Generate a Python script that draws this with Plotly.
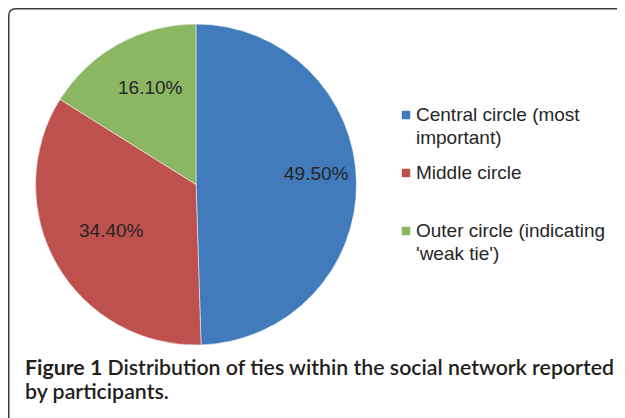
import math
import plotly.graph_objects as go

categories = ["Central circle (most<br>important)", "Middle circle", "Outer circle (indicating<br>'weak tie')"]
values = [49.5, 34.4, 16.1]
value_labels = ["49.50%", "34.40%", "16.10%"]
colors = ["#417BBB", "#BE504E", "#8BB662"]
label_radius = [0.757, 0.599, 0.665]
label_angle_shift = [-4.5, 1.5, 3.8]

W, H = 625, 418
OFF = 8  # page body margin of the screenshot

def px(x):
    return (x - OFF) / W

def py(y):
    return 1 - (y - OFF) / H

cx, cy, r = 196, 184.5, 160.5

fig = go.Figure()
fig.add_trace(go.Pie(
    labels=[c.replace("<br>", " ") for c in categories],
    values=values,
    text=value_labels,
    textinfo="none",
    marker=dict(colors=colors, line=dict(color="white", width=0.5)),
    sort=False,
    direction="clockwise",
    rotation=0,
    showlegend=False,
    domain=dict(x=[px(cx - r), px(cx + r)], y=[py(cy + r), py(cy - r)]),
    hoverinfo="label+text",
))

label_font = dict(family="Liberation Sans, Arial, sans-serif", size=19, color="#262626")

# slice labels placed around the mid-angle of each slice (derived from the values)
total = sum(values)
cum = 0.0
for v, lab, rf, sh in zip(values, value_labels, label_radius, label_angle_shift):
    mid = (cum + v / 2) / total * 2 * math.pi + math.radians(sh)
    cum += v
    lx = cx + rf * r * math.sin(mid)
    ly = cy - rf * r * math.cos(mid)
    fig.add_annotation(
        text=lab, xref="paper", yref="paper", x=px(lx), y=py(ly),
        xanchor="center", yanchor="middle", showarrow=False, font=label_font,
    )

# legend (square key + label per category)
leg_x, leg_y0, leg_step, line_step, sq = 406, 115, 58, 23, 8.5
for i, (cat, col) in enumerate(zip(categories, colors)):
    yc = leg_y0 + i * leg_step
    fig.add_shape(type="rect", xref="paper", yref="paper",
                  x0=px(leg_x - sq / 2), x1=px(leg_x + sq / 2),
                  y0=py(yc + sq / 2), y1=py(yc - sq / 2),
                  fillcolor=col, line=dict(width=0))
    for j, line in enumerate(cat.split("<br>")):
        fig.add_annotation(
            text=line, xref="paper", yref="paper", x=px(414), y=py(yc - 0.5 + j * line_step),
            xanchor="left", yanchor="middle", showarrow=False, font=label_font,
        )

# rounded frame
x0, y0, x1, y1, rr = 8.75, 8.75, 640, 430, 7
path = (f"M {px(x0+rr)},{py(y0)} L {px(x1)},{py(y0)} L {px(x1)},{py(y1)} L {px(x0+rr)},{py(y1)} "
        f"Q {px(x0)},{py(y1)} {px(x0)},{py(y1-rr)} L {px(x0)},{py(y0+rr)} "
        f"Q {px(x0)},{py(y0)} {px(x0+rr)},{py(y0)} Z")
fig.add_shape(type="path", path=path, xref="paper", yref="paper",
              line=dict(color="#3a3a3a", width=1.5), fillcolor="rgba(0,0,0,0)")

cap_font = dict(family="Lato, Open Sans, sans-serif", size=21.3, color="#231f20", weight=600)
fig.add_annotation(
    text="<b>Figure 1</b> Distribution of ties within the social network reported",
    xref="paper", yref="paper", x=px(23), y=py(367), xanchor="left", yanchor="middle",
    align="left", showarrow=False, font=cap_font,
)
fig.add_annotation(
    text="by participants.",
    xref="paper", yref="paper", x=px(23), y=py(390.5), xanchor="left", yanchor="middle",
    align="left", showarrow=False, font=cap_font,
)

fig.update_layout(
    width=W, height=H,
    margin=dict(l=0, r=0, t=0, b=0, autoexpand=False),
    paper_bgcolor="white", plot_bgcolor="white",
    showlegend=False,
)

fig.write_html("out.html")
